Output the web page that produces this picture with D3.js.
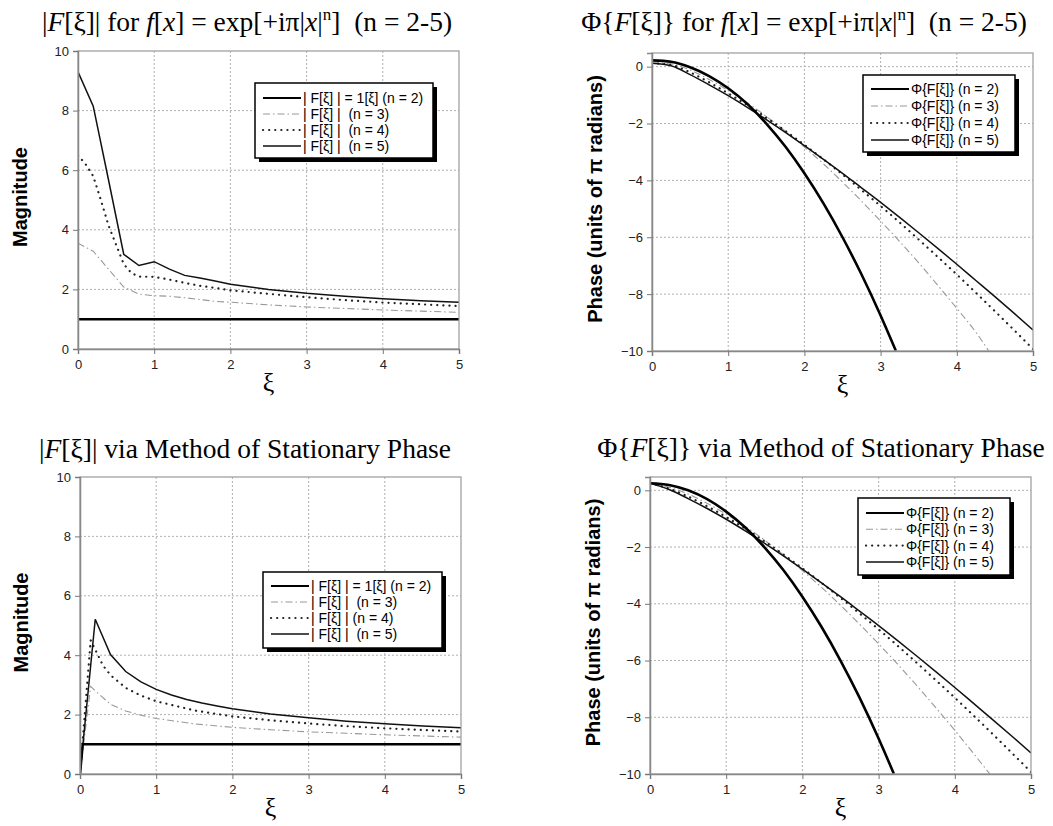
<!DOCTYPE html>
<html>
<head>
<meta charset='utf-8' />
<title></title>
<style>
  body{ margin:0; background:#fff; }
  text{ font-family: Arial, 'Liberation Sans', sans-serif; }
  .title{ font-family: 'Liberation Serif', 'Times New Roman', serif; font-size:27.5px; fill:#000; white-space:pre; }
  .ylab{ font-size:20px; font-weight:bold; }
  .xlab{ font-family: 'Liberation Serif', 'Times New Roman', serif; font-size:26px; }
  .leg text{ font-size:14px; white-space:pre; }
</style>
</head>
<body>
<script src="https://d3js.org/d3.v7.min.js"></script>
<script>

// |F[xi]| from the exact transform (top left)
const magExact2 = [[0,1],[5,1]]
const magExact3 = [[0,3.55],[0.2,3.28],[0.4,2.68],[0.6,2.08],[0.8,1.84],[1.0,1.79],[1.2,1.77],[1.4,1.72],[1.6,1.66],[1.8,1.6],[2.0,1.57],[2.5,1.48],[3.0,1.41],[3.5,1.36],[4.0,1.31],[4.5,1.27],[5.0,1.23]]
const magExact4 = [[0,6.5],[0.1,6.2],[0.2,5.8],[0.3,5.0],[0.4,4.15],[0.5,3.5],[0.6,2.85],[0.7,2.55],[0.8,2.43],[1.0,2.42],[1.2,2.33],[1.4,2.22],[1.6,2.12],[1.8,2.05],[2.0,1.97],[2.5,1.85],[3.0,1.74],[3.5,1.64],[4.0,1.56],[4.5,1.5],[5.0,1.44]]
const magExact5 = [[0,9.3],[0.2,8.15],[0.4,5.68],[0.6,3.18],[0.8,2.8],[1.0,2.93],[1.2,2.68],[1.4,2.47],[1.6,2.38],[1.8,2.28],[2.0,2.17],[2.5,2.0],[3.0,1.87],[3.5,1.77],[4.0,1.69],[4.5,1.62],[5.0,1.57]]

// |F[xi]| via stationary phase (bottom left)
const magStat2 = [[0,0],[0.035,1],[5,1]]
const magStat3 = [[0,0],[0.14,2.95],[0.2,2.8],[0.4,2.35],[0.6,2.12],[0.8,1.98],[1.0,1.87],[1.5,1.69],[2.0,1.57],[2.5,1.49],[3.0,1.42],[3.5,1.37],[4.0,1.32],[4.5,1.28],[5.0,1.24]]
const magStat4 = [[0,0],[0.14,4.5],[0.2,4.19],[0.3,3.66],[0.4,3.33],[0.6,2.9],[0.8,2.64],[1.0,2.45],[1.5,2.14],[2.0,1.94],[2.5,1.81],[3.0,1.7],[3.5,1.61],[4.0,1.54],[4.5,1.48],[5.0,1.43]]
const magStat5 = [[0,0],[0.2,5.21],[0.4,4.02],[0.6,3.45],[0.8,3.1],[1.0,2.85],[1.2,2.66],[1.4,2.51],[1.6,2.39],[1.8,2.29],[2.0,2.2],[2.5,2.02],[3.0,1.89],[3.5,1.78],[4.0,1.69],[4.5,1.62],[5.0,1.56]]

// phase (units of pi) from the exact transform (top right)
const phaseExact2 = [[0,0.22],[0.25,0.17],[0.5,-0.02],[0.75,-0.33],[1,-0.76],[1.25,-1.31],[1.5,-2],[1.75,-2.81],[2,-3.75],[2.25,-4.81],[2.5,-6],[2.75,-7.31],[3,-8.75],[3.2,-9.99]]
const phaseExact3 = [[0,0.13],[0.25,0.1],[0.5,-0.12],[0.75,-0.45],[1,-0.84],[1.25,-1.27],[1.5,-1.75],[1.75,-2.27],[2,-2.83],[2.25,-3.42],[2.5,-4.06],[2.75,-4.73],[3,-5.43],[3.25,-6.15],[3.5,-6.9],[3.75,-7.69],[4,-8.5],[4.25,-9.34],[4.42,-10]]
const phaseExact4 = [[0,0.12],[0.25,0.06],[0.5,-0.2],[0.75,-0.55],[1,-0.94],[1.25,-1.35],[1.5,-1.79],[1.75,-2.26],[2,-2.75],[2.25,-3.26],[2.5,-3.79],[2.75,-4.34],[3,-4.9],[3.25,-5.48],[3.5,-6.08],[3.75,-6.69],[4,-7.31],[4.25,-7.95],[4.5,-8.6],[4.75,-9.26],[5,-9.93]]
const phaseExact5 = [[0,0.12],[0.25,0.03],[0.5,-0.28],[0.75,-0.64],[1,-1.02],[1.25,-1.43],[1.5,-1.86],[1.75,-2.31],[2,-2.78],[2.25,-3.26],[2.5,-3.75],[2.75,-4.26],[3,-4.77],[3.25,-5.3],[3.5,-5.84],[3.75,-6.39],[4,-6.95],[4.25,-7.52],[4.5,-8.09],[4.75,-8.67],[5,-9.26]]

// phase via stationary phase (bottom right)
const phaseStat2 = [[0,0.25],[0.25,0.19],[0.5,0],[0.75,-0.31],[1,-0.75],[1.25,-1.31],[1.5,-2],[1.75,-2.81],[2,-3.75],[2.25,-4.81],[2.5,-6],[2.75,-7.31],[3,-8.75],[3.2,-9.99]]
const phaseStat3 = [[0,0.25],[0.25,0.11],[0.5,-0.13],[0.75,-0.46],[1,-0.84],[1.25,-1.27],[1.5,-1.75],[1.75,-2.27],[2,-2.83],[2.25,-3.42],[2.5,-4.05],[2.75,-4.72],[3,-5.41],[3.25,-6.13],[3.5,-6.88],[3.75,-7.66],[4,-8.46],[4.25,-9.29],[4.46,-10]]
const phaseStat4 = [[0,0.25],[0.25,0.06],[0.5,-0.22],[0.75,-0.56],[1,-0.94],[1.25,-1.35],[1.5,-1.79],[1.75,-2.26],[2,-2.75],[2.25,-3.26],[2.5,-3.79],[2.75,-4.34],[3,-4.9],[3.25,-5.48],[3.5,-6.08],[3.75,-6.69],[4,-7.31],[4.25,-7.95],[4.5,-8.6],[4.75,-9.26],[5,-9.93]]
const phaseStat5 = [[0,0.25],[0.25,0.03],[0.5,-0.29],[0.75,-0.64],[1,-1.02],[1.25,-1.43],[1.5,-1.86],[1.75,-2.31],[2,-2.78],[2.25,-3.26],[2.5,-3.75],[2.75,-4.26],[3,-4.77],[3.25,-5.3],[3.5,-5.84],[3.75,-6.39],[4,-6.95],[4.25,-7.52],[4.5,-8.09],[4.75,-8.67],[5,-9.26]]

const xTicks = [0,1,2,3,4,5]
const magTicks = [0,2,4,6,8,10]
const phaseTicks = [0,-2,-4,-6,-8,-10]

const legendMagTop = ['| F[ξ] | = 1[ξ] (n = 2)', '| F[ξ] |  (n = 3)', '| F[ξ] |  (n = 4)', '| F[ξ] |  (n = 5)']
const legendMagBot = ['| F[ξ] | = 1[ξ] (n = 2)', '| F[ξ] |  (n = 3)', '| F[ξ] | (n = 4)', '| F[ξ] |  (n = 5)']
const legendPhase = ['Φ{F[ξ]} (n = 2)', 'Φ{F[ξ]} (n = 3)', 'Φ{F[ξ]} (n = 4)', 'Φ{F[ξ]} (n = 5)']

// n = 2,3,4,5
const styles = [
  {w:2.6, c:'#000', dash:null, cap:'butt'},
  {w:1.1, c:'#999', dash:'7,3,1.5,3', cap:'butt'},
  {w:2.2, c:'#222', dash:'0.1,6', cap:'round'},
  {w:1.5, c:'#111', dash:null, cap:'butt'}
]

let svg = d3.select('body').append('svg').attr('width',1053).attr('height',826)

// title pieces: [text, italic?, superscript?]
const titleExact = [['|',0],['F',1],['[ξ]| for ',0],['f',1],['[',0],['x',1],['] = exp[+iπ|',0],['x',1],['|',0],['n',0,1],[']  (n = 2-5)',0]]
const titleExactPh = [['Φ{',0],['F',1],['[ξ]} for ',0],['f',1],['[',0],['x',1],['] = exp[+iπ|',0],['x',1],['|',0],['n',0,1],[']  (n = 2-5)',0]]
const titleStat = [['|',0],['F',1],['[ξ]| via Method of Stationary Phase',0]]
const titleStatPh = [['Φ{',0],['F',1],['[ξ]} via Method of Stationary Phase',0]]

function panel(o){
  let g = svg.append('g')
  let x = d3.scaleLinear().domain([0,5]).range([o.l, o.r])
  let y = d3.scaleLinear().domain(o.yd).range([o.b, o.t])

  // grid
  g.append('g').selectAll('line').data(xTicks.slice(1,-1)).join('line')
    .attr('x1',d => x(d)).attr('x2',d => x(d)).attr('y1',o.t).attr('y2',o.b)
    .attr('stroke','#b0b0b0').attr('stroke-dasharray','2,2')
  g.append('g').selectAll('line').data(o.yt.filter(d => y(d) > o.t + 2 && y(d) < o.b - 2)).join('line')
    .attr('x1',o.l).attr('x2',o.r).attr('y1',d => y(d)).attr('y2',d => y(d))
    .attr('stroke','#b0b0b0').attr('stroke-dasharray','2,2')

  let clipId = 'clip' + o.id
  svg.append('clipPath').attr('id',clipId).append('rect')
    .attr('x',o.l).attr('y',o.t).attr('width',o.r-o.l).attr('height',o.b-o.t)

  let line = d3.line().x(d => x(d[0])).y(d => y(d[1]))
  if(o.smooth){ line.curve(d3.curveMonotoneX) }

  let lg = g.append('g').attr('clip-path','url(#'+clipId+')')
  // n=3 first, then n=4, n=5, n=2 on top
  ;[1,2,3,0].forEach(i => {
    let s = styles[i]
    lg.append('path').datum(o.series[i]).attr('d',line)
      .attr('fill','none').attr('stroke',s.c).attr('stroke-width',s.w)
      .attr('stroke-dasharray',s.dash).attr('stroke-linecap',s.cap)
  })

  // frame
  g.append('rect').attr('x',o.l).attr('y',o.t).attr('width',o.r-o.l).attr('height',o.b-o.t)
    .attr('fill','none').attr('stroke','#999').attr('stroke-width',1.2)

  let ax = g.append('g').attr('transform','translate(0,'+o.b+')')
    .call(d3.axisBottom(x).tickValues(xTicks).tickSize(5).tickPadding(6).tickFormat(d3.format('d')))
  let ay = g.append('g').attr('transform','translate('+o.l+',0)')
    .call(d3.axisLeft(y).tickValues(o.yt).tickSize(5).tickPadding(4).tickFormat(d3.format('d')))
  ;[ax,ay].forEach(a => {
    a.select('.domain').attr('stroke','#888').attr('stroke-width',1.5)
    a.selectAll('.tick line').attr('stroke','#777')
    a.selectAll('.tick text').attr('font-family','Arial, sans-serif').attr('font-size',13).attr('fill','#222')
  })

  // title
  let tt = g.append('text').attr('class','title').attr('x',o.tx).attr('y',o.ty).attr('text-anchor','middle')
  let raised = false
  o.title.forEach(p => {
    let ts = tt.append('tspan').text(p[0])
    if(p[1]){ ts.attr('font-style','italic') }
    if(p[2]){ ts.attr('font-size',17).attr('dy',-11); raised = true }
    else if(raised){ ts.attr('dy',11); raised = false }
  })

  g.append('text').attr('class','ylab')
    .attr('transform','translate('+o.yx+','+((o.t+o.b)/2 - 3)+') rotate(-90)')
    .attr('text-anchor','middle').text(o.ylab)
  g.append('text').attr('class','xlab').attr('x',(o.l+o.r)/2).attr('y',o.b+42)
    .attr('text-anchor','middle').text('ξ')

  // legend
  let L = o.leg
  let leg = g.append('g').attr('class','leg')
  leg.append('rect').attr('x',L.x+4).attr('y',L.y+4).attr('width',L.w).attr('height',L.h).attr('fill','#000')
  leg.append('rect').attr('x',L.x).attr('y',L.y).attr('width',L.w).attr('height',L.h)
    .attr('fill','#fff').attr('stroke','#000').attr('stroke-width',1.5)
  o.labels.forEach((t,i) => {
    let s = styles[i], cy = L.y + L.r0 + i*L.dy
    leg.append('line').attr('x1',L.x+8).attr('x2',L.x+46).attr('y1',cy).attr('y2',cy)
      .attr('stroke',s.c).attr('stroke-width',Math.min(s.w,2.2)).attr('stroke-dasharray',s.dash).attr('stroke-linecap',s.cap)
    leg.append('text').attr('x',L.x+48).attr('y',cy+5).text(t)
  })
}

panel({id:1, l:78, r:459, t:51, b:349, yd:[0,10], yt:magTicks,
  series:[magExact2,magExact3,magExact4,magExact5], smooth:false,
  title:titleExact, tx:247, ty:31, ylab:'Magnitude', yx:27,
  labels:legendMagTop, leg:{x:255, y:83, w:178, h:75, r0:15, dy:16}})

panel({id:2, l:652, r:1033, t:53, b:351, yd:[-10,0.48], yt:phaseTicks,
  series:[phaseExact2,phaseExact3,phaseExact4,phaseExact5], smooth:true,
  title:titleExactPh, tx:804, ty:31, ylab:'Phase (units of π radians)', yx:602,
  labels:legendPhase, leg:{x:863, y:75, w:152, h:77, r0:14, dy:17}})

panel({id:3, l:80, r:461, t:477, b:774, yd:[0,10], yt:magTicks,
  series:[magStat2,magStat3,magStat4,magStat5], smooth:false,
  title:titleStat, tx:245, ty:458, ylab:'Magnitude', yx:28,
  labels:legendMagBot, leg:{x:263, y:572, w:179, h:76, r0:14, dy:16}})

panel({id:4, l:650, r:1031, t:477, b:774, yd:[-10,0.47], yt:phaseTicks,
  series:[phaseStat2,phaseStat3,phaseStat4,phaseStat5], smooth:true,
  title:titleStatPh, tx:821, ty:457, ylab:'Phase (units of π radians)', yx:600,
  labels:legendPhase, leg:{x:858, y:498, w:152, h:77, r0:15, dy:16.3}})

</script>
</body>
</html>
